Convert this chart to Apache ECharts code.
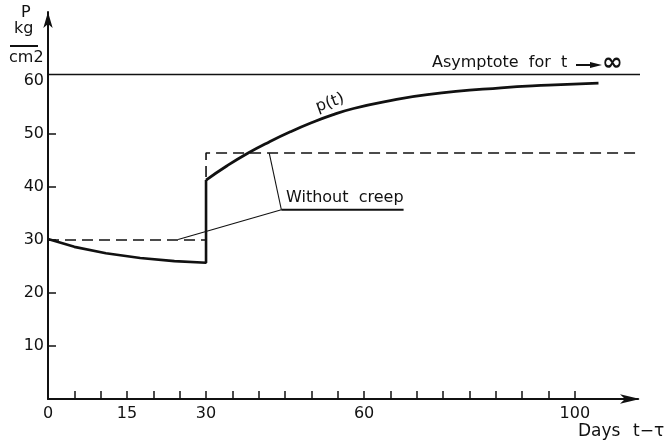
<!DOCTYPE html>
<html><head><meta charset="utf-8">
<script src="https://cdn.jsdelivr.net/npm/echarts@6/dist/echarts.min.js"></script>
<style>html,body{margin:0;padding:0;background:#fff}#c{width:664px;height:443px}</style>
</head><body><div id="c"></div>
<script>
// ---- data ----
var xTickValues = [5,10,15,20,25,30,35,40,45,50,55,60,65,70,75,80,85,90,95,100];
var xLabelValues = [0,15,30,60,100];
var yTickValues = [10,20,30,40,50];
var yLabelValues = [10,20,30,40,50,60];
// p(t) with creep, before the load step (t in days, p in kg/cm2)
var pBefore = [[0,30.2],[5,28.7],[11,27.5],[17.5,26.6],[24,26.0],[30,25.7],[30,41.3]];
// p(t) with creep, after the load step
var pAfter = [[30,41.3],[34,44.0],[38,46.4],[42,48.5],[46,50.4],[50,52.1],[54,53.6],[58,54.8],[64,56.1],[72,57.4],[86,58.7],[95,59.2],[104.5,59.6]];
// without creep (dashed)
var noCreep = [[0,30],[30,30],[30,46.4],[112.8,46.4]];
// asymptote for t -> infinity
var asymptote = [[0,61.2],[113.5,61.2]];
// leader lines of the "Without creep" note
var leaderA = [[42,46.4],[44.3,35.7],[67.5,35.7]];
var leaderB = [[24.7,30.1],[44.3,35.7]];

var FONT = 'DejaVu Sans';
var INK = '#111';
var chart = echarts.init(document.getElementById('c'), null, {renderer:'canvas'});
function lineSeries(data, w, type, smooth){
  return {type:'line', data:data, symbol:'none', clip:false, smooth:smooth||false, silent:true,
    lineStyle:{color:INK, width:w, type:type||'solid'}, z:3};
}
chart.setOption({
  animation:false,
  backgroundColor:'#fff',
  grid:{left:48, right:26, top:12, bottom:44, containLabel:false},
  xAxis:{type:'value', min:0, max:112,
    axisLine:{show:true, lineStyle:{color:INK, width:2}, symbol:['none','arrow'], symbolSize:[7,20], symbolOffset:[0,2]},
    axisTick:{show:true, inside:true, length:8, lineStyle:{color:INK, width:1.5}, customValues:xTickValues},
    axisLabel:{show:true, margin:7, color:INK, fontFamily:FONT, fontSize:16, customValues:xLabelValues},
    splitLine:{show:false}},
  yAxis:{type:'value', min:0, max:73,
    axisLine:{show:true, lineStyle:{color:INK, width:2}, symbol:['none','arrow'], symbolSize:[7,16]},
    axisTick:{show:true, inside:true, length:8, lineStyle:{color:INK, width:1.5}, customValues:yTickValues},
    axisLabel:{show:true, margin:4, color:INK, fontFamily:FONT, fontSize:16, customValues:yLabelValues},
    splitLine:{show:false}},
  series:[
    lineSeries(asymptote, 1.5),
    lineSeries(noCreep, 1.6, [11,6]),
    lineSeries(pBefore, 2.6),
    lineSeries(pAfter, 2.8, 'solid', 0.5),
    lineSeries(leaderA.slice(0,2), 1.1),
    lineSeries(leaderA.slice(1), 2),
    lineSeries(leaderB, 1.1)
  ],
  graphic:[
    {type:'text', left:21, top:5, style:{text:'P', font:'16px '+FONT, fill:INK}},
    {type:'text', left:14, top:21, style:{text:'kg', font:'16px '+FONT, fill:INK}},
    {type:'line', shape:{x1:10,y1:46,x2:38,y2:46}, style:{stroke:INK, lineWidth:2}},
    {type:'text', left:9, top:50, style:{text:'cm2', font:'16px '+FONT, fill:INK}},
    {type:'text', left:432, top:55, style:{text:'Asymptote  for  t', font:'16px '+FONT, fill:INK}},
    {type:'line', shape:{x1:576,y1:65,x2:594,y2:65}, style:{stroke:INK, lineWidth:2}},
    {type:'polygon', shape:{points:[[590,62],[602,65],[590,68]]}, style:{fill:INK}},
    {type:'text', left:602, top:51, style:{text:'\u221E', font:'bold 25px '+FONT, fill:INK}},
    {type:'text', left:286, top:190, style:{text:'Without  creep', font:'16px '+FONT, fill:INK}},
    {type:'text', x:330, y:103, rotation:0.35, style:{text:'p(t)', font:'16px '+FONT, fill:INK, align:'center', verticalAlign:'middle'}},
    {type:'text', left:578, top:423, style:{text:'Days', font:'17px '+FONT, fill:INK}},
    {type:'text', left:633, top:423, style:{text:'t\u2212\u03C4\u2080', font:'17px '+FONT, fill:INK}}
  ]
});
</script></body></html>
